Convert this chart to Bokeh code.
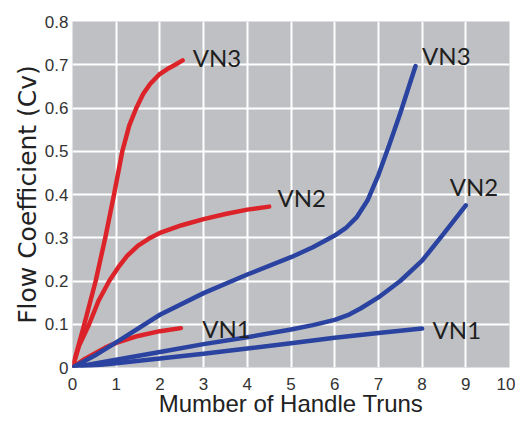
from bokeh.plotting import figure
from bokeh.models import FixedTicker, Range1d, Label, Title
from bokeh.embed import file_html
from bokeh.resources import INLINE

# ---- data ----
red_vn3_x = [0, 0.27, 0.53, 0.75, 0.95, 1.14, 1.3, 1.46, 1.62, 1.78, 1.98, 2.17, 2.35, 2.52]
red_vn3_y = [0, 0.10, 0.20, 0.30, 0.40, 0.50, 0.56, 0.60, 0.633, 0.656, 0.677, 0.69, 0.70, 0.71]

red_vn2_x = [0, 0.15, 0.38, 0.6, 0.84, 1.05, 1.25, 1.5, 1.75, 2.0, 2.5, 3.0, 3.5, 4.0, 4.5]
red_vn2_y = [0, 0.05, 0.10, 0.155, 0.20, 0.232, 0.258, 0.282, 0.298, 0.311, 0.329, 0.343, 0.355, 0.365, 0.372]

red_vn1_x = [0, 0.25, 0.5, 0.75, 1.0, 1.5, 2.0, 2.48]
red_vn1_y = [0, 0.018, 0.032, 0.046, 0.057, 0.073, 0.084, 0.091]

blue_vn3_x = [0, 0.5, 1, 2, 3, 4, 5, 5.5, 6, 6.25, 6.5, 6.75, 7.0, 7.25, 7.5, 7.85]
blue_vn3_y = [0, 0.027, 0.058, 0.122, 0.172, 0.215, 0.255, 0.278, 0.305, 0.322, 0.347, 0.386, 0.445, 0.515, 0.588, 0.697]

blue_vn2_x = [0, 1, 2, 3, 4, 5, 5.5, 6, 6.3, 6.6, 7, 7.5, 8, 8.5, 9]
blue_vn2_y = [0, 0.018, 0.036, 0.054, 0.07, 0.088, 0.098, 0.11, 0.121, 0.137, 0.162, 0.2, 0.247, 0.31, 0.375]

blue_vn1_x = [0, 1, 2, 3, 4, 5, 6, 7, 8]
blue_vn1_y = [0, 0.01, 0.021, 0.032, 0.044, 0.056, 0.069, 0.08, 0.09]

x_ticks = [0, 1, 2, 3, 4, 5, 6, 7, 8, 9, 10]
y_ticks = [0, 0.1, 0.2, 0.3, 0.4, 0.5, 0.6, 0.7, 0.8]
y_tick_labels = ["0", "0.1", "0.2", "0.3", "0.4", "0.5", "0.6", "0.7", "0.8"]

curve_labels = ["VN3", "VN2", "VN1", "VN3", "VN2", "VN1"]
curve_label_x = [2.75, 4.69, 2.97, 8.0, 8.63, 8.24]
curve_label_y = [0.717, 0.393, 0.091, 0.722, 0.419, 0.088]

x_title = "Mumber of Handle Truns"
y_title = "Flow Coefficient (Cv)"

RED = "#dc2329"
BLUE = "#2b43a0"

p = figure(width=515, height=421, output_backend="svg", toolbar_location=None,
           x_range=Range1d(0, 10), y_range=Range1d(0, 0.8),
           min_border_left=72, min_border_right=6, min_border_top=21, min_border_bottom=54)
p.background_fill_color = "#bec0c3"
p.border_fill_color = "white"
p.outline_line_color = None

p.grid.grid_line_color = "white"
p.grid.grid_line_width = 2
p.xgrid.ticker = FixedTicker(ticks=x_ticks)
p.ygrid.ticker = FixedTicker(ticks=y_ticks)

p.xaxis.ticker = FixedTicker(ticks=x_ticks)
p.yaxis.ticker = FixedTicker(ticks=y_ticks)
p.yaxis.major_label_overrides = {t: l for t, l in zip(y_ticks, y_tick_labels)}

for ax in (p.xaxis, p.yaxis):
    ax.axis_line_color = None
    ax.major_tick_line_color = None
    ax.minor_tick_line_color = None
    ax.major_tick_out = 0
    ax.major_tick_in = 0
    ax.minor_tick_out = 0
    ax.major_label_text_font = "Liberation Sans"
    ax.major_label_text_font_size = "17px"
    ax.major_label_text_color = "#333333"

p.xaxis.major_label_standoff = 10
p.yaxis.major_label_standoff = 4

p.xaxis.axis_label = x_title
p.xaxis.axis_label_text_font = "Liberation Sans"
p.xaxis.axis_label_text_font_size = "24px"
p.xaxis.axis_label_text_font_style = "normal"
p.xaxis.axis_label_text_color = "#222222"
p.xaxis.axis_label_standoff = -3

ytitle = Title(text=y_title, align="center", offset=-15, standoff=0,
               text_font="DejaVu Sans", text_font_size="25px", text_font_style="normal",
               text_color="#222222")
p.add_layout(ytitle, "left")

for xs, ys, c in [(red_vn3_x, red_vn3_y, RED), (red_vn2_x, red_vn2_y, RED), (red_vn1_x, red_vn1_y, RED),
                  (blue_vn3_x, blue_vn3_y, BLUE), (blue_vn2_x, blue_vn2_y, BLUE), (blue_vn1_x, blue_vn1_y, BLUE)]:
    p.line(xs, ys, line_color=c, line_width=4.5, line_cap="round", line_join="round")

for txt, lx, ly in zip(curve_labels, curve_label_x, curve_label_y):
    p.add_layout(Label(x=lx, y=ly, text=txt, text_font="Lato", text_font_size="24px",
                       text_color="#1e1e1e", text_baseline="middle", text_align="left"))

open("out.html", "w").write(file_html(p, INLINE))
